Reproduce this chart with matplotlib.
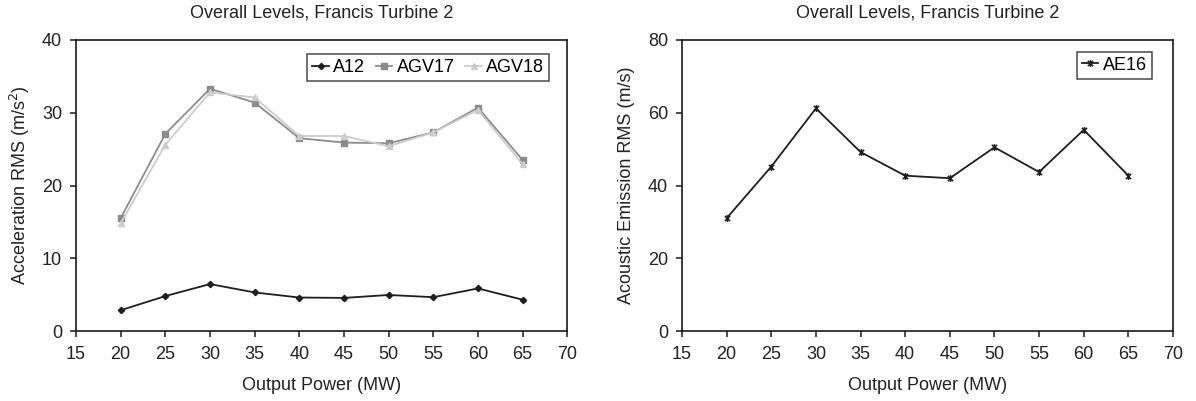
import numpy as np
import matplotlib
matplotlib.use('Agg')
import matplotlib.pyplot as plt
from matplotlib.path import Path

plt.rcParams['font.family'] = ['Liberation Sans', 'DejaVu Sans']
plt.rcParams['font.size'] = 13

power = [20, 25, 30, 35, 40, 45, 50, 55, 60, 65]

a12 = [2.85, 4.8, 6.45, 5.3, 4.6, 4.55, 4.95, 4.65, 5.85, 4.3]
agv17 = [15.5, 27.1, 33.3, 31.4, 26.5, 25.9, 25.8, 27.3, 30.7, 23.5]
agv18 = [14.8, 25.6, 32.8, 32.1, 26.8, 26.8, 25.4, 27.3, 30.4, 22.9]
ae16 = [31.0, 45.2, 61.2, 49.2, 42.7, 42.0, 50.5, 43.7, 55.3, 42.7]

title = 'Overall Levels, Francis Turbine 2'
FS = 13
TXT = '#222222'

# Excel-like "star" marker: an x with a vertical bar
star = Path([(-1, -1), (1, 1), (-1, 1), (1, -1), (0, -1.3), (0, 1.3)],
            [Path.MOVETO, Path.LINETO, Path.MOVETO, Path.LINETO,
             Path.MOVETO, Path.LINETO])


def style_axes(ax, ymax, ystep):
    ax.set_xlim(15, 70)
    ax.set_xticks(range(15, 71, 5))
    ax.set_ylim(0, ymax)
    ax.set_yticks(range(0, ymax + 1, ystep))
    for s in ax.spines.values():
        s.set_linewidth(1.2)
        s.set_color('#1a1a1a')
    ax.tick_params(direction='out', length=4, width=1.1, colors='#1a1a1a',
                   labelsize=FS, labelcolor=TXT)
    ax.tick_params(axis='x', pad=7)
    ax.tick_params(axis='y', pad=6)
    ax.set_xlabel('Output Power (MW)', fontsize=FS, color=TXT, labelpad=10)
    ax.set_title(title, fontsize=FS, pad=16, color=TXT)


def add_legend(ax, anchor, ncol):
    leg = ax.legend(loc='upper right', ncol=ncol, frameon=True, fancybox=False,
                    edgecolor='#1a1a1a', fontsize=FS, handlelength=0.9,
                    handletextpad=0.25, columnspacing=0.6, borderpad=0.28,
                    borderaxespad=0, bbox_to_anchor=anchor)
    leg.get_frame().set_linewidth(1.1)
    return leg


fig = plt.figure(figsize=(11.96, 4.01), dpi=100)
ax1 = fig.add_axes([76 / 1196, 70 / 401, 491.3 / 1196, 291 / 401])
ax2 = fig.add_axes([682 / 1196, 70 / 401, 491 / 1196, 291 / 401])

ax1.plot(power, a12, color='#1e1e1e', lw=1.3, marker='D', ms=3.2, label='A12')
ax1.plot(power, agv17, color='#8c8c8c', lw=1.3, marker='s', ms=4.5, label='AGV17')
ax1.plot(power, agv18, color='#cccccc', lw=1.3, marker='^', ms=4.5, label='AGV18')
style_axes(ax1, 40, 10)
ax1.set_ylabel('Acceleration RMS (m/s$^2$)', fontsize=FS, color=TXT, labelpad=7)
add_legend(ax1, (0.9634, 0.952), 3)

ax2.plot(power, ae16, color='#1e1e1e', lw=1.3, marker=star, ms=5, mew=1.1,
         label='AE16')
style_axes(ax2, 80, 20)
ax2.set_ylabel('Acoustic Emission RMS (m/s)', fontsize=FS, color=TXT, labelpad=9)
add_legend(ax2, (0.957, 0.96), 1)

fig.savefig('out.png', dpi=100)
